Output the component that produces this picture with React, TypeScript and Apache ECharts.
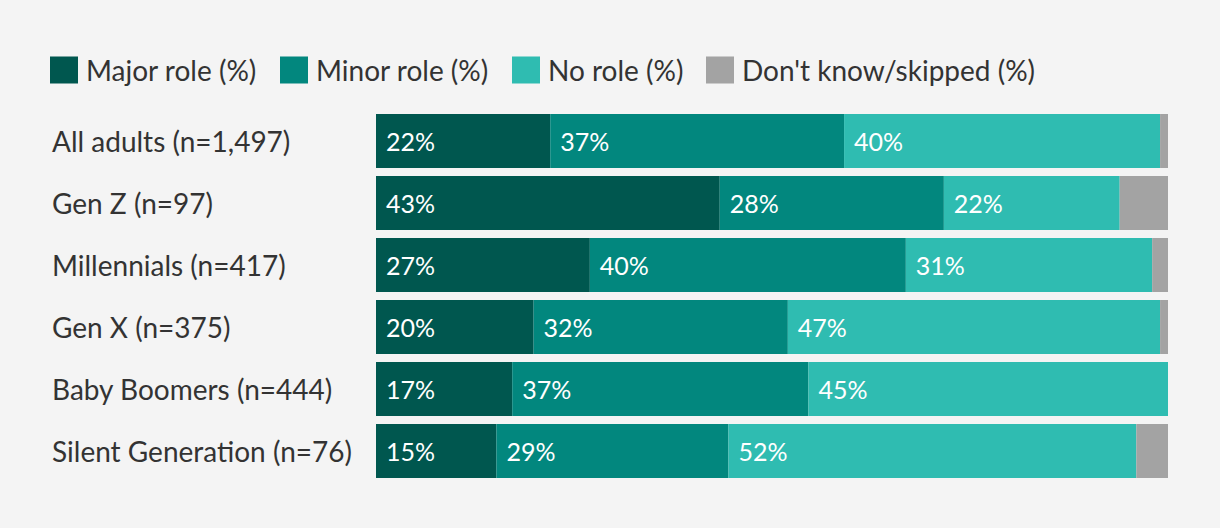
import React, { useEffect, useRef } from "react";
import * as echarts from "echarts";

const categories = [
  "All adults (n=1,497)",
  "Gen Z (n=97)",
  "Millennials (n=417)",
  "Gen X (n=375)",
  "Baby Boomers (n=444)",
  "Silent Generation (n=76)",
];
const seriesNames = ["Major role (%)", "Minor role (%)", "No role (%)", "Don't know/skipped (%)"];
const majorRole = [22, 43.4, 27, 19.9, 17.2, 15.2];
const minorRole = [37.1, 28.3, 39.9, 32.1, 37.4, 29.3];
const noRole = [39.9, 22.2, 31.1, 47, 45.4, 51.5];
const dontKnow = [1, 6.1, 2, 1, 0, 4];
const colors = ["#00574f", "#02877e", "#2fbcb1", "#a3a3a3"];
const legendLeft = [50, 280, 512, 706];

const FONT = "Lato, 'Noto Sans', sans-serif";

export default function App() {
  const ref = useRef<HTMLDivElement>(null);
  useEffect(() => {
    if (!ref.current) return;
    const chart = echarts.init(ref.current, null, { renderer: "svg" });
    const all = [majorRole, minorRole, noRole, dontKnow];
    chart.setOption({
      animation: false,
      backgroundColor: "#f4f4f4",
      color: colors,
      textStyle: { fontFamily: FONT },
      legend: seriesNames.map((n, i) => ({
        left: legendLeft[i],
        top: 56,
        padding: 0,
        itemWidth: 28,
        itemHeight: 27,
        icon: "rect",
        textStyle: { fontSize: 28, color: "#333", fontFamily: FONT, padding: [0, 0, 10, 3] },
        data: [n],
      })),
      grid: { left: 376, right: 52, top: 110, bottom: 46, containLabel: false },
      xAxis: { type: "value", min: 0, max: 100, show: false },
      yAxis: {
        type: "category",
        data: categories,
        inverse: true,
        axisLine: { show: false },
        axisTick: { show: false },
        axisLabel: {
          align: "left",
          margin: 324,
          fontSize: 28,
          color: "#333",
          fontFamily: FONT,
          padding: [0, 0, 8, 0],
        },
      },
      series: all.map((vals, i) => ({
        name: seriesNames[i],
        type: "bar",
        stack: "total",
        barWidth: 54,
        data: vals,
        itemStyle: { color: colors[i] },
        label: {
          show: i < 3,
          position: "insideLeft",
          distance: 10,
          color: "#fff",
          fontSize: 25,
          fontFamily: FONT,
          padding: [0, 0, 5, 0],
          formatter: (p: any) => Math.round(p.value) + "%",
        },
      })),
    });
    return () => chart.dispose();
  }, []);
  return <div ref={ref} style={{ width: 1220, height: 528, position: "absolute", left: 0, top: 0 }} />;
}
